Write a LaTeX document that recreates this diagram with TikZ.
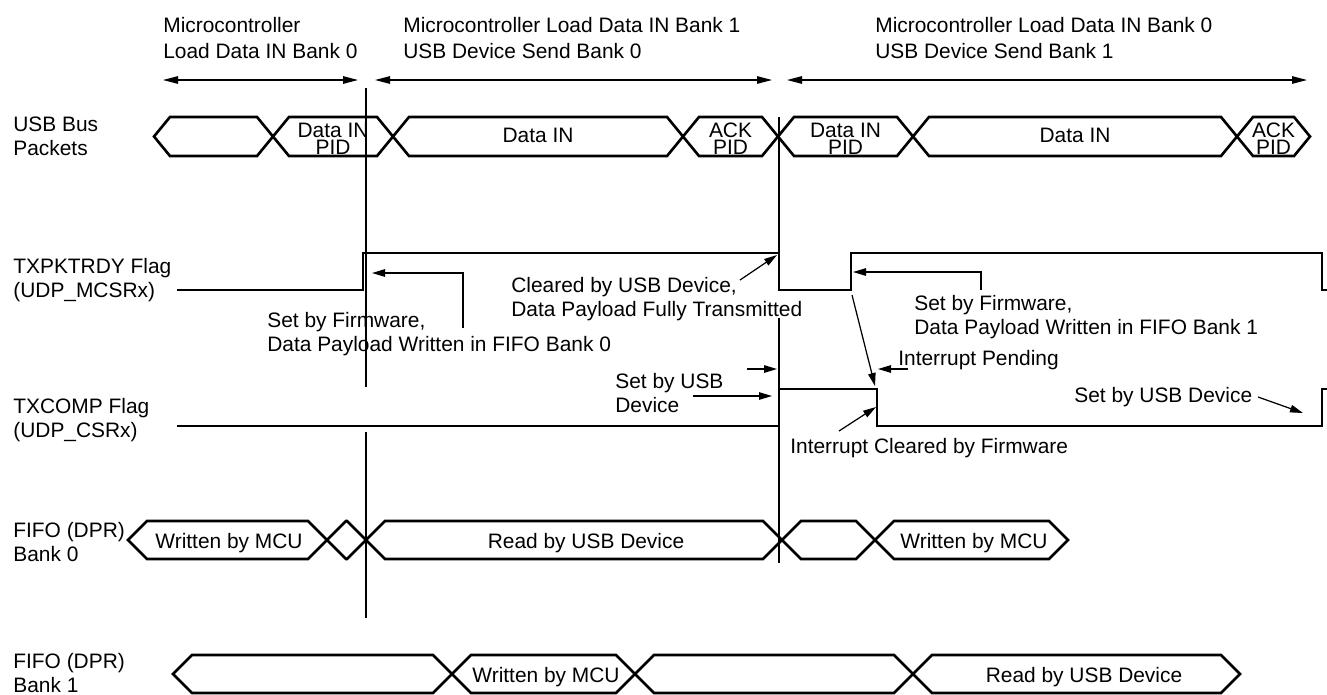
\documentclass[tikz,border=0pt]{standalone}
\usepackage{fontspec}
\setmainfont{Liberation Sans}
\usetikzlibrary{arrows.meta}

\tikzset{
  lbl/.style={font=\fontsize{11.9}{13.6}\selectfont, inner sep=0pt, anchor=base west, align=left},
  hdr/.style={lbl, font=\fontsize{11.9}{14.7}\selectfont},
  pid/.style={font=\fontsize{11.9}{9.4}\selectfont, inner sep=0pt, anchor=base, align=center},
  sig/.style={line width=1.5pt, line join=miter},
  fine/.style={line width=0.7pt},
  arr/.style={fine, -{Triangle[length=2.6mm, width=1.5mm]}},
  dbl/.style={fine, {Triangle[length=3mm, width=1.5mm]}-{Triangle[length=3mm, width=1.5mm]}},
}

\begin{document}
\begin{tikzpicture}[x=0.02cm, y=-0.02cm]
  \useasboundingbox (0,0) rectangle (1327,694);

  % Phase headers (anchored on the last line)
  \node[hdr] (ph0) at (163,58) {Microcontroller\\Load Data IN Bank 0};
  \node[hdr] (ph1) at (403,58) {Microcontroller Load Data IN Bank 1\\USB Device Send Bank 0};
  \node[hdr] (ph2) at (875,58) {Microcontroller Load Data IN Bank 0\\USB Device Send Bank 1};
  \draw[dbl] (163,80) -- (358,80);
  \draw[dbl] (375,80) -- (772,80);
  \draw[dbl] (787,80) -- (1307,80);

  % Bank switch markers
  \draw[fine] (366,88) -- (366,387) (366,432) -- (366,618);
  \draw[fine] (779,117) -- (779,290) (779,318) -- (779,563);

  % Row labels
  \node[lbl] (usb) at (13,155) {USB Bus\\Packets};
  \node[lbl] (txp) at (13,297) {TXPKTRDY Flag\\(UDP\_MCSRx)};
  \node[lbl] (txc) at (13,437) {TXCOMP Flag\\(UDP\_CSRx)};
  \node[lbl] (fb0) at (13,561) {FIFO (DPR)\\Bank 0};
  \node[lbl] (fb1) at (13,692) {FIFO (DPR)\\Bank 1};

  % USB bus packets
  \foreach \a/\b/\ty/\t [count=\i] in {154/273/154/{}, 273/393/154/{Data IN\\PID},
      393/683/142/{Data IN}, 683/778/154/{ACK\\PID}, 778/913/154/{Data IN\\PID},
      913/1237/142/{Data IN}, 1237/1310/154/{ACK\\PID}} {
    \draw[sig] (\a,136.5) -- (\a+16,117) -- (\b-16,117) -- (\b,136.5)
      -- (\b-16,156) -- (\a+16,156) -- cycle;
    \node[pid] (pkt\i) at ({(\a+\b)/2},\ty) {\t};
  }

  % TXPKTRDY and TXCOMP
  \draw[sig] (177,290) -- (363,290) -- (363,253) -- (779,253) -- (779,290)
    -- (851,290) -- (851,253) -- (1322,253) -- (1322,290) -- (1327,290);
  \draw[sig] (177,426) -- (779,426) -- (779,389) -- (877,389) -- (877,426)
    -- (1322,426) -- (1322,389) -- (1327,389);

  % FIFO bank 0
  \foreach \a/\b/\tx/\t [count=\i] in {128/327/229/Written by MCU, 327/366/346/{},
      366/782/586/Read by USB Device, 782/875/828/{}, 875/1068/974/Written by MCU} {
    \draw[sig] (\a,540) -- (\a+19,521) -- (\b-19,521) -- (\b,540)
      -- (\b-19,559) -- (\a+19,559) -- cycle;
    \node[pid] (bzero\i) at (\tx,548) {\t};
  }

  % FIFO bank 1
  \foreach \a/\b/\tx/\t [count=\i] in {173/452/312/{}, 452/635/546/Written by MCU,
      635/913/774/{}, 913/1240/1084/Read by USB Device} {
    \draw[sig] (\a,674) -- (\a+19,655) -- (\b-19,655) -- (\b,674)
      -- (\b-19,693) -- (\a+19,693) -- cycle;
    \node[pid] (bone\i) at (\tx,682) {\t};
  }

  % Annotations
  \node[lbl] (fw0) at (267,351) {Set by Firmware,\\Data Payload Written in FIFO Bank 0};
  \draw[arr] (463,328) |- (372,273);
  \node[lbl] (clr) at (511,316) {Cleared by USB Device,\\Data Payload Fully Transmitted};
  \draw[arr] (740,280) -- (777,255);
  \node[lbl] (setusb) at (615,412) {Set by USB\\Device};
  \draw[arr] (747,369) -- (777,369);
  \draw[arr] (693,396) -- (772,396);
  \node[lbl] (fw1) at (914,334) {Set by Firmware,\\Data Payload Written in FIFO Bank 1};
  \draw[arr] (981,290) |- (853,272);
  \draw[arr] (852,295) -- (875,386);
  \node[lbl] (pend) at (898,365) {Interrupt Pending};
  \draw[arr] (908,369) -- (878,369);
  \node[lbl] (setdev) at (1074,402) {Set by USB Device};
  \draw[arr] (1258,397) -- (1303,413);
  \node[lbl] (iclr) at (790,453) {Interrupt Cleared by Firmware};
  \draw[arr] (839,431) -- (876,407);
\end{tikzpicture}
\end{document}
